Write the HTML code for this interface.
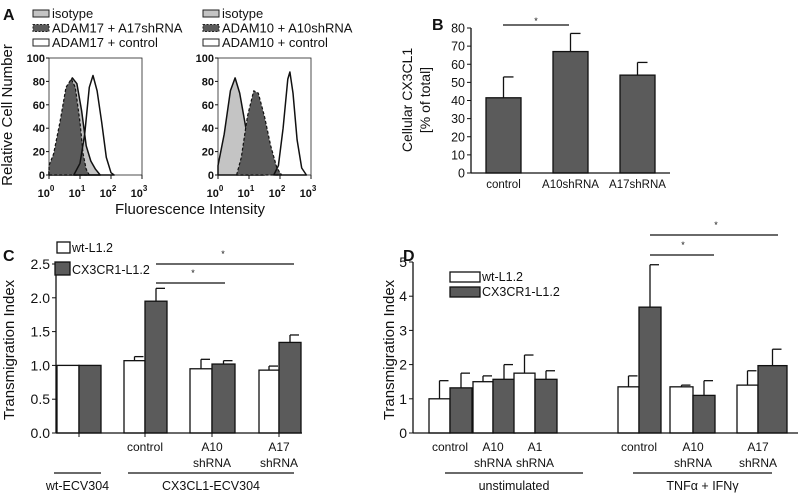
<!DOCTYPE html>
<html><head><meta charset="utf-8">
<style>
html,body{margin:0;padding:0;background:#fff;}
svg{display:block;font-family:"Liberation Sans",Arial,sans-serif;}
</style></head>
<body>
<svg id="fig" width="798" height="494" viewBox="0 0 798 494" xmlns="http://www.w3.org/2000/svg"></svg>
<script>
// ---------- DATA ----------
// Panel A (log10 intensity, relative count)
const aLeftIso   = [[0,3],[0.2,15],[0.4,40],[0.6,75],[0.75,83],[0.9,78],[1.05,55],[1.2,25],[1.35,12],[1.5,5],[1.65,0]];
const aLeftKd    = [[0,8],[0.15,18],[0.35,45],[0.55,75],[0.72,82],[0.85,75],[1.0,45],[1.1,18],[1.2,5],[1.3,0]];
const aLeftCtl   = [[0.8,0],[1.0,10],[1.15,35],[1.3,75],[1.42,85],[1.55,72],[1.7,45],[1.85,15],[2.0,2],[2.1,0]];
const aRightIso  = [[0,8],[0.2,35],[0.4,72],[0.55,83],[0.7,70],[0.9,40],[1.1,15],[1.3,5],[1.5,0]];
const aRightKd   = [[0.6,0],[0.75,15],[0.95,50],[1.15,72],[1.3,70],[1.5,50],[1.7,25],[1.9,6],[2.05,0]];
const aRightCtl  = [[1.8,0],[1.95,8],[2.1,40],[2.25,82],[2.32,88],[2.42,70],[2.55,30],[2.7,6],[2.85,0]];
// Panel B
const bCats = ["control","A10shRNA","A17shRNA"];
const bVals = [41.5, 67, 54];
const bErr  = [53, 77, 61];
const bTicks = [0,10,20,30,40,50,60,70,80];
// Panel C
const cCats = ["", "control", "A10|shRNA", "A17|shRNA"];
const cWt   = [1.0, 1.07, 0.95, 0.93];
const cWtE  = [1.0, 1.13, 1.09, 0.99];
const cCx   = [1.0, 1.95, 1.02, 1.34];
const cCxE  = [1.0, 2.14, 1.07, 1.45];
const cTicks = [0, 0.5, 1.0, 1.5, 2.0, 2.5];
// Panel D
const dCats = ["control","A10|shRNA","A1|shRNA","control","A10|shRNA","A17|shRNA"];
const dWt   = [1.0, 1.5, 1.75, 1.35, 1.35, 1.4];
const dWtE  = [1.53, 1.67, 2.28, 1.67, 1.4, 1.82];
const dCx   = [1.32, 1.57, 1.57, 3.68, 1.1, 1.97];
const dCxE  = [1.75, 2.0, 1.82, 4.92, 1.53, 2.45];
const dTicks = [0,1,2,3,4,5];

// ---------- HELPERS ----------
const svg = document.getElementById('fig');
const NS = 'http://www.w3.org/2000/svg';
function el(tag, attrs, parent){ const e=document.createElementNS(NS,tag); for(const k in attrs) e.setAttribute(k,attrs[k]); (parent||svg).appendChild(e); return e; }
function txt(x,y,s,size,anchor,name,extra){
  const t=el('text',Object.assign({x:x,y:y,'font-size':size,'text-anchor':anchor||'start',fill:'#111'},extra||{}));
  t.textContent=s;
  
  
  return t;
}
function line(x1,y1,x2,y2,name,w){
  const l=el('line',{x1:x1,y1:y1,x2:x2,y2:y2,stroke:'#111','stroke-width':w||1.3});
  
  
  return l;
}
const DARK='#5b5b5b', LIGHT='#c4c4c4';

// ---------- PANEL A ----------
txt(3,20,'A',16,'start','panel-a-label',{'font-weight':'bold'});
function legendA(x, items){
  items.forEach((it,i)=>{
    const y=10+i*14.5;
    const r=el('rect',{x:x,y:y,width:16,height:7,fill:it[1],stroke:'#222','stroke-width':1,'stroke-dasharray':it[2]?'2,1.5':'none'});
    
    
    txt(x+19,y+8,it[0],13,'start','legend-entry');
  });
}
legendA(33,[['isotype',LIGHT],['ADAM17 + A17shRNA',DARK,true],['ADAM17 + control','#fff']]);
legendA(203,[['isotype',LIGHT],['ADAM10 + A10shRNA',DARK,true],['ADAM10 + control','#fff']]);

function histPlot(x0, ptsSets, nm){
  const top=58, bot=175, w=93, dec=31;
  const X=l=>x0+l*dec, Y=v=>bot-(v/100)*(bot-top);
  const box=el('rect',{x:x0,y:top,width:w,height:bot-top,fill:'#fff',stroke:'#222','stroke-width':0.8});
  
  
  ptsSets.forEach(ps=>{
    const [pts,fill,dash,sname]=ps;
    let d='M'+X(pts[0][0])+','+bot;
    pts.forEach(p=>{d+=' L'+X(p[0]).toFixed(1)+','+Y(p[1]).toFixed(1);});
    d+=' L'+X(pts[pts.length-1][0])+','+bot+' Z';
    const p=el('path',{d:d,fill:fill,stroke:'#111','stroke-width':dash?1.2:1.5,'stroke-dasharray':dash?'3,2':'none','stroke-linejoin':'round'});
    
    
  });
  [0,20,40,60,80,100].forEach(v=>{
    line(x0-3,Y(v),x0,Y(v),'y-tick',1);
    txt(x0-4,Y(v)+4,String(v),11,'end','y-tick-label',{'font-weight':'bold'});
  });
  for(let k=0;k<4;k++){
    line(X(k),bot,X(k),bot+4,'x-tick',1);
    const t=txt(X(k)-3,bot+22,'10',11,'middle','x-tick-label',{'font-weight':'bold'});
    const s=el('tspan',{dy:-6,'font-size':8}); s.textContent=String(k); t.appendChild(s);
  }
}
histPlot(49,[[aLeftIso,LIGHT,false,'isotype-histogram'],[aLeftKd,DARK,true,'a17shrna-histogram'],[aLeftCtl,'none',false,'control-histogram']],'a-left');
histPlot(218,[[aRightIso,LIGHT,false,'isotype-histogram'],[aRightKd,DARK,true,'a10shrna-histogram'],[aRightCtl,'none',false,'control-histogram']],'a-right');
txt(12,115,'Relative Cell Number',15,'middle','a-y-axis-title',{transform:'rotate(-90 12 115)'});
txt(190,214,'Fluorescence Intensity',15,'middle','a-x-axis-title');

// ---------- PANEL B ----------
(function(){
  const ax=471, y0=173, yTop=28, max=80;
  const Y=v=>y0-(v/max)*(y0-yTop);
  txt(432,30,'B',16,'start','panel-b-label',{'font-weight':'bold'});
  const xs=[486,553,620], bw=35;
  bVals.forEach((v,i)=>{
    const cx=xs[i]+bw/2;
    line(cx,Y(v),cx,Y(bErr[i]),'error-bar',1.3);
    line(cx,Y(bErr[i]),cx+10,Y(bErr[i]),'error-cap',1.3);
    const r=el('rect',{x:xs[i],y:Y(v),width:bw,height:y0-Y(v),fill:DARK,stroke:'#111','stroke-width':1.3});
    
    
    txt(cx,188,bCats[i],11.5,'middle','x-tick-label');
  });
  line(ax,yTop,ax,y0,'y-axis',1.3); line(ax,y0,670,y0,'x-axis',1.3);
  bTicks.forEach(v=>{ line(ax-4,Y(v),ax,Y(v),'y-tick',1); txt(ax-6,Y(v)+4.5,String(v),12.5,'end','y-tick-label'); });
  line(503,25,569,25,'significance-line',1.2); txt(536,24,'*',9,'middle','significance-star');
  txt(412,100,'Cellular CX3CL1',14,'middle','b-y-axis-title',{transform:'rotate(-90 412 100)'});
  txt(430,100,'[% of total]',14,'middle','b-y-axis-title-2',{transform:'rotate(-90 430 100)'});
})();

// ---------- BAR PANEL (C & D) ----------
function barPanel(o){
  const Y=v=>o.y0-(v/o.max)*(o.y0-o.yTop);
  o.wt.forEach((v,i)=>{
    const g=o.groups[i];
    [[v,o.wtE[i],g[0],g[1]-g[0],'#fff','bar-wt'],[o.cx[i],o.cxE[i],g[1],g[2]-g[1],DARK,'bar-cx3cr1']].forEach(b=>{
      const [val,err,x,w,fill,nm]=b, cx=x+w/2;
      if(err>val){ line(cx,Y(val),cx,Y(err),'error-bar',1.3); line(cx,Y(err),cx+9,Y(err),'error-cap',1.3); }
      const r=el('rect',{x:x,y:Y(val),width:w,height:o.y0-Y(val),fill:fill,stroke:'#111','stroke-width':1.3});
      
      
    });
    const parts=o.cats[i].split('|'); const mid=g[1];
    parts.forEach((p,k)=>{ if(p) txt(mid,o.y0+18+k*16,p,12,'middle','x-tick-label'); });
    if(o.xticks) line(mid,o.y0,mid,o.y0+4,'x-tick',1);
  });
  line(o.ax,o.yTop,o.ax,o.y0,'y-axis',1.3); line(o.ax,o.y0,o.axEnd,o.y0,'x-axis',1.3);
  o.ticks.forEach(v=>{ line(o.ax-4,Y(v),o.ax,Y(v),'y-tick',1); txt(o.ax-6,Y(v)+5,o.fmt(v),14,'end','y-tick-label'); });
  o.gl.forEach(g=>{ line(g[0],473,g[1],473,'group-line',1.2); txt((g[0]+g[1])/2,490,g[2],12.5,'middle','group-label'); });
  o.sig.forEach(s=>{ line(s[0],s[2],s[1],s[2],'significance-line',1.2); txt(s[3],s[2]-7,'*',9,'middle','significance-star'); });
  o.leg.forEach((l,i)=>{
    const r=el('rect',{x:l[0],y:l[1],width:l[2],height:l[3],fill:l[4],stroke:'#111','stroke-width':1.3});
    
    
    txt(l[0]+l[2]+2,l[1]+l[3]-1,l[5],12.5,'start','legend-entry');
  });
  txt(o.tx,350,'Transmigration Index',15,'middle','y-axis-title',{transform:'rotate(-90 '+o.tx+' 350)'});
}
txt(3,261,'C',16,'start','panel-c-label',{'font-weight':'bold'});
barPanel({ax:56,axEnd:302,y0:433,yTop:264,max:2.5,ticks:cTicks,fmt:v=>v.toFixed(1),
  wt:cWt,wtE:cWtE,cx:cCx,cxE:cCxE,cats:cCats,xticks:true,
  groups:[[57,79,101],[124,145,167],[190,212,235],[259,279,301]],
  gl:[[54,101,'wt-ECV304'],[128,294,'CX3CL1-ECV304']],
  sig:[[156,294,264,223],[156,225,283,193]],
  leg:[[57,242,13,11,'#fff','wt-L1.2'],[55,262,15,13,DARK,'CX3CR1-L1.2']],tx:14});
txt(403,261,'D',16,'start','panel-d-label',{'font-weight':'bold'});
barPanel({ax:413,axEnd:798,y0:433,yTop:262,max:5,ticks:dTicks,fmt:v=>String(v),
  wt:dWt,wtE:dWtE,cx:dCx,cxE:dCxE,cats:dCats,xticks:false,
  groups:[[429,450,472],[473,493,515],[514,535,557],[618,639,661],[670,693,715],[737,758,787]],
  gl:[[445,583,'unstimulated'],[633,772,'TNF\u03b1 + IFN\u03b3']],
  sig:[[650,714,255,683],[650,778,235,716]],
  leg:[[450,272,30,10,'#fff','wt-L1.2'],[450,287,30,10,DARK,'CX3CR1-L1.2']],tx:394});
</script>
</body></html>
